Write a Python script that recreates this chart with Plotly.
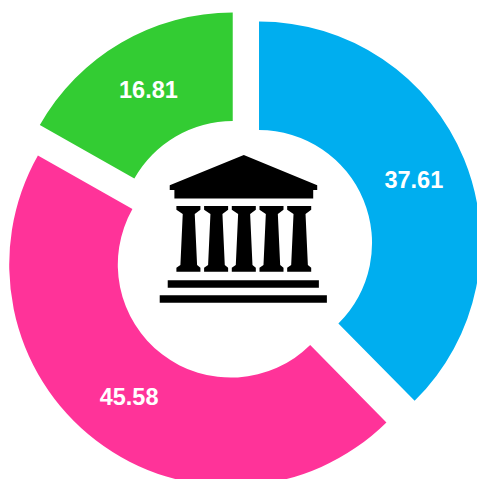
import plotly.graph_objects as go

labels = ["A", "B", "C"]
values = [37.61, 45.58, 16.81]
colors = ["#00AEEF", "#FF3399", "#33CC33"]
pull = [0.083, 0.083, 0.083]

W, H = 490, 495
PW = 479.5
L = 242.2 - PW / 2
T = 249.9 - PW / 2

fig = go.Figure(go.Pie(
    labels=labels, values=values, sort=False, direction="clockwise", rotation=0,
    hole=0.51, pull=pull, marker=dict(colors=colors, line=dict(width=0)),
    texttemplate="%{value:.2f}", textinfo="value", textposition="inside",
    insidetextorientation="horizontal",
    insidetextfont=dict(family="Liberation Sans, Arial, sans-serif", size=23.5, color="white", weight="bold"),
    showlegend=False, hoverinfo="skip",
))


def P(pts):
    parts = []
    for i, (x, y) in enumerate(pts):
        parts.append(("M" if i == 0 else "L") + f"{(x - L) / PW:.5f},{1 - (y - T) / PW:.5f}")
    return " ".join(parts) + " Z"


def z(zx, zy):
    return (zx / 3 + 150, zy / 3 + 145)


shapes_px = [[z(*p) for p in [(282, 30), (60, 121), (60, 135), (74, 135), (74, 160), (490, 160), (490, 135), (502, 135), (502, 121)]],
             [z(*p) for p in [(54, 405), (507, 405), (507, 428), (54, 428)]],
             [z(*p) for p in [(30, 450), (531, 450), (531, 473), (30, 473)]]]
for x0 in [80, 163, 246, 329, 412]:
    col = [(0, 183), (72, 183), (72, 194), (55, 207), (62, 360), (72, 368), (72, 380),
           (0, 380), (0, 368), (12, 360), (19, 207), (0, 194)]
    shapes_px.append([z(x0 + a, b) for a, b in col])

fig.update_layout(
    width=W, height=H, autosize=False,
    margin=dict(l=L, r=W - L - PW, t=T, b=H - T - PW, pad=0),
    paper_bgcolor="white", plot_bgcolor="white",
    shapes=[dict(type="path", xref="paper", yref="paper", path=P(s),
                 fillcolor="black", line=dict(width=0), layer="above") for s in shapes_px],
)
fig.write_html("out.html", config={"displayModeBar": False},
               post_script="document.body.style.margin='0';document.documentElement.style.overflow='hidden';document.body.style.overflow='hidden';")
